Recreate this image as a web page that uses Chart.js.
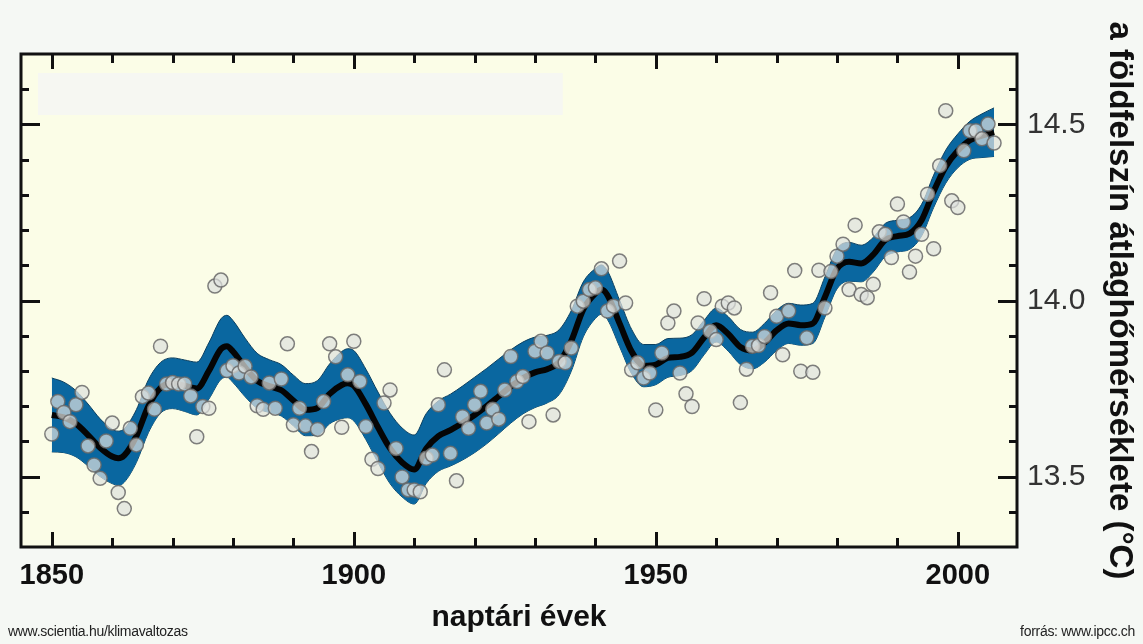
<!DOCTYPE html>
<html><head><meta charset="utf-8">
<script src="https://cdn.jsdelivr.net/npm/chart.js@4.4.1/dist/chart.umd.min.js"></script>
<style>
html,body{margin:0;padding:0;background:#f5f8f4;}
#wrap{position:relative;width:1143px;height:644px;overflow:hidden;}
canvas{position:absolute;left:0;top:0;}
.note{position:absolute;top:623px;font-family:"Liberation Sans",Arial,sans-serif;font-size:14px;color:#222;white-space:nowrap;letter-spacing:-0.3px;}
</style></head>
<body><div id="wrap"><canvas id="c" width="1143" height="644"></canvas>
<div class="note" style="left:8px">www.scientia.hu/klimavaltozas</div>
<div class="note" style="right:8px">forrás: www.ipcc.ch</div></div>
<script>
// ---- data ----
const firstYear = 1850;
const annualTemp = [
13.621,13.713,13.682,13.656,13.704,13.739,13.587,13.533,13.495,13.601,
13.652,13.455,13.409,13.637,13.590,13.727,13.737,13.691,13.870,13.763,
13.767,13.763,13.763,13.729,13.613,13.699,13.694,14.041,14.058,13.801,
13.815,13.794,13.813,13.783,13.701,13.691,13.766,13.694,13.777,13.877,
13.647,13.694,13.644,13.571,13.634,13.713,13.877,13.840,13.640,13.789,
13.884,13.770,13.642,13.549,13.523,13.709,13.746,13.580,13.499,13.462,
13.462,13.457,13.552,13.561,13.704,13.803,13.566,13.488,13.670,13.637,
13.704,13.742,13.652,13.691,13.663,13.746,13.841,13.770,13.784,13.656,
13.856,13.884,13.851,13.675,13.827,13.823,13.865,13.984,13.998,14.031,
14.036,14.090,13.970,13.984,14.112,13.993,13.803,13.823,13.780,13.794,
13.689,13.851,13.936,13.970,13.794,13.735,13.699,13.936,14.005,13.913,
13.889,13.984,13.993,13.979,13.710,13.805,13.870,13.872,13.898,14.022,
13.955,13.846,13.970,14.085,13.799,13.894,13.796,14.086,13.979,14.082,
14.126,14.160,14.031,14.214,14.017,14.008,14.046,14.195,14.188,14.122,
14.274,14.223,14.081,14.126,14.188,14.302,14.147,14.383,14.539,14.283,
14.264,14.425,14.482,14.482,14.459,14.501,14.447
];
const smoothYears = [1850,1852,1854,1856,1858,1860,1861,1862,1864,1866,1868,1870,1872,1874,1876,1878,1879,1880,1882,1884,1886,1888,1890,1892,1894,1896,1898,1899,1900,1902,1904,1906,1908,1910,1912,1914,1916,1918,1920,1922,1924,1926,1928,1930,1932,1934,1936,1938,1940,1941,1942,1944,1946,1948,1950,1952,1954,1956,1958,1960,1962,1964,1966,1968,1970,1972,1974,1976,1978,1980,1982,1984,1986,1988,1990,1992,1994,1996,1998,2000,2002,2004,2006];
const smoothTemp = [13.675,13.668,13.650,13.618,13.582,13.557,13.552,13.560,13.615,13.700,13.752,13.765,13.758,13.750,13.800,13.862,13.870,13.855,13.810,13.772,13.757,13.745,13.716,13.690,13.695,13.735,13.760,13.765,13.758,13.705,13.640,13.580,13.540,13.520,13.580,13.615,13.632,13.652,13.675,13.700,13.728,13.756,13.780,13.796,13.805,13.825,13.885,13.975,14.020,14.031,14.015,13.935,13.855,13.815,13.818,13.837,13.840,13.852,13.895,13.930,13.905,13.868,13.858,13.880,13.915,13.935,13.930,13.935,14.010,14.090,14.110,14.105,14.130,14.172,14.183,14.190,14.228,14.310,14.380,14.425,14.455,14.468,14.478];
const bandLow = [13.570,13.568,13.556,13.530,13.500,13.480,13.475,13.484,13.540,13.625,13.680,13.693,13.685,13.675,13.720,13.776,13.782,13.767,13.727,13.694,13.682,13.672,13.644,13.616,13.617,13.650,13.665,13.667,13.658,13.605,13.540,13.480,13.442,13.422,13.481,13.515,13.530,13.547,13.568,13.593,13.622,13.652,13.678,13.696,13.709,13.733,13.799,13.897,13.949,13.961,13.946,13.869,13.792,13.755,13.761,13.782,13.787,13.801,13.846,13.882,13.856,13.818,13.806,13.825,13.858,13.878,13.873,13.878,13.953,14.033,14.055,14.053,14.081,14.125,14.138,14.145,14.183,14.264,14.333,14.377,14.401,14.406,14.409];
const bandHigh = [13.780,13.768,13.744,13.706,13.664,13.634,13.629,13.636,13.690,13.775,13.824,13.837,13.831,13.825,13.880,13.948,13.958,13.943,13.893,13.850,13.832,13.818,13.788,13.764,13.773,13.820,13.855,13.863,13.858,13.805,13.740,13.680,13.638,13.618,13.679,13.715,13.734,13.757,13.782,13.807,13.834,13.860,13.882,13.896,13.901,13.917,13.971,14.053,14.091,14.101,14.084,14.001,13.918,13.875,13.875,13.892,13.893,13.903,13.944,13.978,13.954,13.918,13.910,13.935,13.972,13.992,13.987,13.992,14.067,14.147,14.165,14.157,14.179,14.219,14.228,14.235,14.273,14.356,14.427,14.473,14.509,14.530,14.547];
const xTickLabels = [1850, 1900, 1950, 2000];
const yTickLabels = [13.5, 14.0, 14.5];
const xTitle = 'naptári évek';
const yTitle = 'a földfelszín átlaghőmérséklete (°C)';

// ---- build ----
const pts = annualTemp.map((t, i) => ({x: firstYear + i, y: t}));
const smooth = smoothYears.map((yr, i) => ({x: yr, y: smoothTemp[i]}));
const lo = smoothYears.map((yr, i) => ({x: yr, y: bandLow[i]}));
const hi = smoothYears.map((yr, i) => ({x: yr, y: bandHigh[i]}));

const X_MIN = 1844.9, X_MAX = 2009.8, Y_MIN = 13.3, Y_MAX = 14.7;
const blankBox = {x0: 1847.7, x1: 1934.6, y0: 14.527, y1: 14.646};

const framePlugin = {
  id: 'frame',
  beforeDraw(chart) {
    const {ctx, chartArea: a, scales: {x, y}} = chart;
    ctx.save();
    ctx.fillStyle = '#fbfde7';
    ctx.fillRect(a.left, a.top, a.right - a.left, a.bottom - a.top);
    ctx.fillStyle = '#f6f7f2';
    const bx0 = x.getPixelForValue(blankBox.x0), bx1 = x.getPixelForValue(blankBox.x1);
    const by0 = y.getPixelForValue(blankBox.y1), by1 = y.getPixelForValue(blankBox.y0);
    ctx.fillRect(bx0, by0, bx1 - bx0, by1 - by0);
    ctx.restore();
  },
  afterDatasetsDraw(chart) {
    const {ctx, chartArea: a, scales: {x, y}} = chart;
    ctx.save();
    ctx.strokeStyle = '#111';
    ctx.lineWidth = 3;
    ctx.lineCap = 'butt';
    ctx.beginPath();
    for (let yr = 1850; yr <= 2000; yr += 10) {
      const px = Math.round(x.getPixelForValue(yr)) + 0.5;
      const len = (yr % 50 === 0) ? 15 : 9;
      ctx.moveTo(px, a.top); ctx.lineTo(px, a.top + len);
      ctx.moveTo(px, a.bottom); ctx.lineTo(px, a.bottom - len);
    }
    for (let k = 134; k <= 146; k++) {
      const v = k / 10;
      const py = Math.round(y.getPixelForValue(v)) + 0.5;
      const len = (k % 5 === 0) ? 19 : 8;
      ctx.moveTo(a.left, py); ctx.lineTo(a.left + len, py);
      ctx.moveTo(a.right, py); ctx.lineTo(a.right - len, py);
    }
    ctx.stroke();
    ctx.strokeRect(a.left, a.top, a.right - a.left, a.bottom - a.top);
    ctx.restore();
  }
};

new Chart(document.getElementById('c'), {
  type: 'line',
  data: {
    datasets: [
      {label: 'annual', type: 'scatter', data: pts, order: 0,
       pointRadius: 7, pointBackgroundColor: 'rgba(222,224,222,0.72)',
       pointBorderColor: 'rgba(105,105,105,0.85)', pointBorderWidth: 1.5, showLine: false},
      {label: 'smooth', data: smooth, order: 1, borderColor: '#050505', borderWidth: 6,
       pointRadius: 0, cubicInterpolationMode: 'monotone', fill: false},
      {label: 'high', data: hi, order: 2, borderColor: '#0b3f60', borderWidth: 1,
       backgroundColor: '#0a67a0', pointRadius: 0, cubicInterpolationMode: 'monotone', fill: '+1'},
      {label: 'low', data: lo, order: 3, borderColor: '#0b3f60', borderWidth: 1,
       pointRadius: 0, cubicInterpolationMode: 'monotone', fill: false}
    ]
  },
  options: {
    responsive: false,
    animation: false,
    devicePixelRatio: 1,
    layout: {padding: {left: 21, top: 54, right: 0, bottom: 0}},
    plugins: {legend: {display: false}, tooltip: {enabled: false}},
    scales: {
      x: {
        type: 'linear', position: 'bottom', min: X_MIN, max: X_MAX,
        grid: {display: false, drawTicks: false}, border: {display: false},
        afterBuildTicks: s => { s.ticks = xTickLabels.map(v => ({value: v})); },
        afterFit: s => { s.height = 97; },
        ticks: {callback: v => String(v), color: '#111', padding: 12, maxRotation: 0, autoSkip: false,
          font: {family: '"Liberation Sans", Arial, sans-serif', size: 29, weight: 'bold'}},
        title: {display: true, text: xTitle, color: '#111', padding: {top: 0, bottom: 8},
          font: {family: '"Liberation Sans", Arial, sans-serif', size: 30, weight: 'bold'}}
      },
      y: {
        type: 'linear', position: 'right', min: Y_MIN, max: Y_MAX,
        grid: {display: false, drawTicks: false}, border: {display: false},
        afterBuildTicks: s => { s.ticks = yTickLabels.map(v => ({value: v})); },
        afterFit: s => { s.width = 126; },
        ticks: {callback: v => Number(v).toFixed(1), color: '#333', padding: 10,
          font: {family: '"Liberation Sans", Arial, sans-serif', size: 30}},
        title: {display: true, text: yTitle, color: '#111', padding: {top: 4, bottom: 0},
          font: {family: '"Liberation Sans", Arial, sans-serif', size: 33, weight: 'bold'}}
      }
    }
  },
  plugins: [framePlugin]
});
</script>
</body></html>
